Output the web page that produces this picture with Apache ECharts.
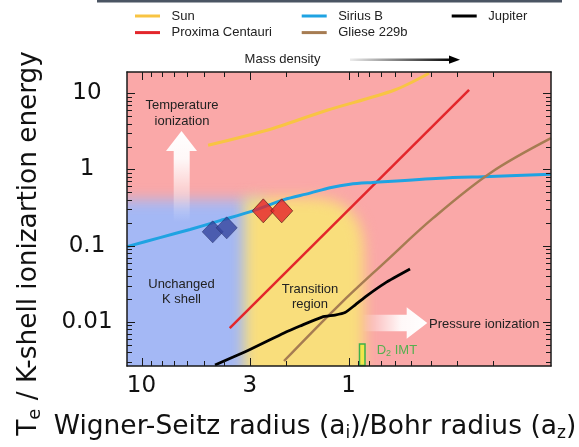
<!DOCTYPE html>
<html><head><meta charset="utf-8">
<script src="https://cdn.jsdelivr.net/npm/echarts@6/dist/echarts.min.js"></script>
<style>html,body{margin:0;padding:0;background:#fff}#c{width:579px;height:447px}</style>
</head><body><div id="c"></div>
<script>
// ---------------- data ----------------
const sunX = [4.77, 2.48, 1.271, 0.604, 0.409];
const sunY = [2.08, 3.27, 5.99, 10.95, 18.3];
const proximaX = [3.75, 0.262];
const proximaY = [0.00832, 11.05];
const siriusX = [11.75, 8.14, 5.83, 4.18, 2.895, 2.051, 1.536, 1.230, 0.985, 0.763, 0.362, 0.2076, 0.1054];
const siriusY = [0.0973, 0.1277, 0.1635, 0.2133, 0.2867, 0.402, 0.489, 0.5775, 0.642, 0.6756, 0.769, 0.8096, 0.868];
const glieseX = [2.051, 1.100, 0.6672, 0.3913, 0.2076, 0.1054];
const glieseY = [0.003073, 0.01717, 0.0610, 0.2299, 0.894, 2.572];
const jupiterX = [4.417, 2.993, 2.051, 1.717, 1.344, 1.163, 1.041, 0.9313, 0.815, 0.6672, 0.5052];
const jupiterY = [0.002723, 0.004347, 0.007154, 0.008837, 0.01159, 0.01231, 0.01328, 0.01665, 0.02218, 0.03234, 0.04935];
const blueDiamondX = [4.531, 3.878];
const blueDiamondY = [0.1521, 0.1716];
const redDiamondX = [2.582, 2.104];
const redDiamondY = [0.2867, 0.2867];
const xTickLabels = [10, 3, 1];
const yTickLabels = [10, 1, 0.1, 0.01];
const xMinorTicks = [0.2, 0.3, 0.4, 0.5, 0.6, 0.7, 0.8, 0.9, 2, 4, 5, 6, 7, 8, 9];
const yMinorTicks = [0.003, 0.004, 0.005, 0.006, 0.007, 0.008, 0.009,
  0.02, 0.03, 0.04, 0.05, 0.06, 0.07, 0.08, 0.09,
  0.2, 0.3, 0.4, 0.5, 0.6, 0.7, 0.8, 0.9,
  2, 3, 4, 5, 6, 7, 8, 9];
const xRange = [0.1054, 11.75];
const yRange = [0.002642, 19.01];
// background regions (data coordinates)
const unchangedX = [40, 3.2];      // K shell unchanged (blue)
const unchangedY = [0.0005, 0.40];
const transitionX = [3.2, 0.843];  // transition region (yellow)
const transitionY = [0.0005, 0.43];

// ---------------- chart ----------------
const chart = echarts.init(document.getElementById('c'), null, {renderer: 'canvas'});
const zip = (xs, ys) => xs.map((v, i) => [v, ys[i]]);
const numFont = 'DejaVu Sans';
const txtFont = 'Liberation Sans';
const fmtLabel = v => String(v);
const lineSeries = (name, xs, ys, color, width, smooth) => ({
  name, type: 'line', data: zip(xs, ys), showSymbol: false, smooth: smooth,
  lineStyle: {color, width}, itemStyle: {color}, clip: true, z: 4, silent: true
});

const axisCommonX = {
  type: 'log', min: xRange[0], max: xRange[1], inverse: true, z: 5,
  axisLine: {show: true, onZero: false, lineStyle: {color: '#1a1a1a', width: 1.5}},
  axisTick: {show: false}, splitLine: {show: false}, minorTick: {show: false}
};
const axisCommonY = {
  type: 'log', min: yRange[0], max: yRange[1], z: 5,
  axisLine: {show: true, onZero: false, lineStyle: {color: '#1a1a1a', width: 1.5}},
  axisTick: {show: false}, splitLine: {show: false}, minorTick: {show: false}
};

const legendBase = {
  orient: 'vertical', top: 9, padding: 0, itemGap: 2.6, itemWidth: 25, itemHeight: 3,
  icon: 'rect', selectedMode: false,
  textStyle: {fontSize: 13, fontFamily: txtFont, color: '#222', lineHeight: 14, padding: [0, 0, 0, 6.5]}
};

const option = {
  animation: false,
  backgroundColor: '#fff',
  grid: {left: 127, top: 72, width: 424, height: 294, show: false, outerBoundsMode: 'none', containLabel: false},
  legend: [
    Object.assign({}, legendBase, {left: 135, data: ['Sun', 'Proxima Centauri']}),
    Object.assign({}, legendBase, {left: 301.7, data: ['Sirius B', 'Gliese 229b']}),
    Object.assign({}, legendBase, {left: 451.7, data: ['Jupiter']})
  ],
  xAxis: [
    Object.assign({}, axisCommonX, {position: 'bottom',
      axisLabel: {show: true, customValues: xTickLabels, margin: 9, fontSize: 23, fontFamily: numFont, color: '#111', formatter: fmtLabel}}),
    Object.assign({}, axisCommonX, {position: 'top', axisLabel: {show: false}})
  ],
  yAxis: [
    Object.assign({}, axisCommonY, {position: 'left',
      axisLabel: {show: true, customValues: yTickLabels, margin: 40, align: 'center', fontSize: 23, fontFamily: numFont, color: '#111', formatter: fmtLabel}}),
    Object.assign({}, axisCommonY, {position: 'right', axisLabel: {show: false}})
  ],
  series: [
    lineSeries('Sun', sunX, sunY, '#F8C443', 3, 0.3),
    lineSeries('Proxima Centauri', proximaX, proximaY, '#E3262B', 2.5, false),
    lineSeries('Sirius B', siriusX, siriusY, '#1FA3E2', 3, 0.3),
    lineSeries('Gliese 229b', glieseX, glieseY, '#A67C52', 2.5, 0.35),
    lineSeries('Jupiter', jupiterX, jupiterY, '#000000', 2.8, 0.2),
    {name: 'blueDiamonds', type: 'scatter', data: zip(blueDiamondX, blueDiamondY), symbol: 'diamond', symbolSize: [21, 22],
      itemStyle: {color: '#34459E', borderColor: '#20285e', borderWidth: 0.6}, z: 6, silent: true},
    {name: 'redDiamonds', type: 'scatter', data: zip(redDiamondX, redDiamondY), symbol: 'diamond', symbolSize: [22, 24],
      itemStyle: {color: '#E5232A', borderColor: '#4a1212', borderWidth: 0.8}, z: 6, silent: true}
  ]
};
chart.setOption(option);

// ---------------- helpers through the axes' scales ----------------
const toPx = (x, y) => chart.convertToPixel({gridIndex: 0}, [x, y]);
const tl = toPx(xRange[1], yRange[1]);
const br = toPx(xRange[0], yRange[0]);
const W = Math.round(br[0] - tl[0]), H = Math.round(br[1] - tl[1]);

// ---------------- ticks ----------------
const tickEls = [];
const tickStyle = {stroke: '#1a1a1a', lineWidth: 1};
function addXTick(v, len) {
  const x = Math.round(toPx(v, 1)[0]) + 0.5;
  tickEls.push({type: 'line', z: 6, silent: true, shape: {x1: x, y1: br[1], x2: x, y2: br[1] - len}, style: tickStyle});
  tickEls.push({type: 'line', z: 6, silent: true, shape: {x1: x, y1: tl[1], x2: x, y2: tl[1] + len}, style: tickStyle});
}
function addYTick(v, len) {
  const y = Math.round(toPx(1, v)[1]) + 0.5;
  tickEls.push({type: 'line', z: 6, silent: true, shape: {x1: tl[0], y1: y, x2: tl[0] + len, y2: y}, style: tickStyle});
  tickEls.push({type: 'line', z: 6, silent: true, shape: {x1: br[0], y1: y, x2: br[0] - len, y2: y}, style: tickStyle});
}
xTickLabels.forEach(v => addXTick(v, 8));
xMinorTicks.forEach(v => addXTick(v, 5));
yTickLabels.forEach(v => addYTick(v, 8));
yMinorTicks.forEach(v => addYTick(v, 5));

// ---------------- background regions (blurred) ----------------
const cv = document.createElement('canvas');
cv.width = W; cv.height = H;
const ctx = cv.getContext('2d');
ctx.fillStyle = '#FAA8A8';
ctx.fillRect(0, 0, W, H);
ctx.filter = 'blur(7px)';
const b0 = toPx(unchangedX[0], unchangedY[1]);
const b1 = toPx(unchangedX[1], unchangedY[0]);
ctx.fillStyle = '#A4B8F5';
ctx.fillRect(b0[0] - tl[0], b0[1] - tl[1], (b1[0] - b0[0]) + 20, b1[1] - b0[1]);
const y0 = toPx(transitionX[0], transitionY[1]);
const y1 = toPx(transitionX[1], transitionY[0]);
const yx = y0[0] - tl[0], yy = y0[1] - tl[1], yw = y1[0] - y0[0], yh = y1[1] - y0[1];
const r = 55;
ctx.fillStyle = '#F9DE7C';
ctx.beginPath();
ctx.moveTo(yx, yy);
ctx.lineTo(yx + yw - r, yy);
ctx.quadraticCurveTo(yx + yw, yy, yx + yw, yy + r);
ctx.lineTo(yx + yw, yy + yh);
ctx.lineTo(yx, yy + yh);
ctx.closePath();
ctx.fill();
ctx.filter = 'none';

const upArrow = {
  type: 'polygon', z: 1, silent: true,
  shape: {points: [[181.5, 131], [197, 151], [189.7, 151], [189.7, 222], [173.7, 222], [173.7, 151], [166, 151]]},
  style: {fill: new echarts.graphic.LinearGradient(0, 0, 0, 1, [
    {offset: 0, color: 'rgba(255,255,255,1)'}, {offset: 0.3, color: 'rgba(255,255,255,0.92)'},
    {offset: 1, color: 'rgba(255,255,255,0)'}])}
};
const rightArrow = {
  type: 'polygon', z: 1, silent: true,
  shape: {points: [[362, 314.7], [406.7, 314.7], [406.7, 307.3], [427.3, 323], [406.7, 338.7], [406.7, 331.3], [362, 331.3]]},
  style: {fill: new echarts.graphic.LinearGradient(0, 0, 1, 0, [
    {offset: 0, color: 'rgba(255,255,255,0)'}, {offset: 0.6, color: 'rgba(255,255,255,0.92)'},
    {offset: 1, color: 'rgba(255,255,255,1)'}])}
};
const annText = (text, x, y, align, lh) => ({
  type: 'text', x, y, z: 3, silent: true,
  style: {text, fill: '#222', fontSize: 13, fontFamily: txtFont, align: align, verticalAlign: 'middle', lineHeight: lh}
});

chart.setOption({
  graphic: [
    {type: 'image', x: tl[0], y: tl[1], z: 0, silent: true, style: {image: cv, x: 0, y: 0, width: W, height: H}},
    upArrow, rightArrow,
    annText('Temperature\nionization', 182, 113.3, 'center', 16),
    annText('Unchanged\nK shell', 181.5, 292.2, 'center', 15),
    annText('Transition\nregion', 310, 297, 'center', 15.7),
    annText('Pressure ionization', 429, 324, 'left', 15),
    {type: 'rect', z: 3, silent: true, shape: {x: 359.5, y: 344, width: 5.5, height: 21.5},
      style: {fill: '#F2E64A', stroke: '#3DB04A', lineWidth: 1.5}},
    {type: 'text', x: 376.7, y: 350, z: 3, silent: true,
      style: {text: '{a|D}{b|2}{a| IMT}', verticalAlign: 'middle', align: 'left',
        rich: {a: {fill: '#55B04F', fontSize: 13, fontFamily: txtFont, lineHeight: 16},
               b: {fill: '#55B04F', fontSize: 9, fontFamily: txtFont, lineHeight: 9, verticalAlign: 'bottom'}}}},
    {type: 'rect', z: 3, silent: true, shape: {x: 97, y: 0, width: 465, height: 2.5}, style: {fill: '#4B5563'}},
    {type: 'text', x: 282.5, y: 59.5, z: 3, silent: true,
      style: {text: 'Mass density', fill: '#222', fontSize: 13, fontFamily: txtFont, align: 'center', verticalAlign: 'middle'}},
    {type: 'line', z: 3, silent: true, shape: {x1: 350, y1: 59.7, x2: 451, y2: 59.7},
      style: {lineWidth: 2.5, stroke: new echarts.graphic.LinearGradient(0, 0, 1, 0, [
        {offset: 0, color: 'rgba(0,0,0,0.05)'}, {offset: 1, color: '#000'}])}},
    {type: 'polygon', z: 3, silent: true, shape: {points: [[449, 55.6], [460, 59.7], [449, 63.8]]}, style: {fill: '#000'}},
    {type: 'text', x: 315, y: 427, z: 3, silent: true,
      style: {text: '{a|Wigner-Seitz radius (a}{b|i}{a|)/Bohr radius (a}{b|z}{a|)}', align: 'center', verticalAlign: 'middle',
        rich: {a: {fill: '#111', fontSize: 26.5, fontFamily: numFont, lineHeight: 31},
               b: {fill: '#111', fontSize: 17, fontFamily: numFont, lineHeight: 17, verticalAlign: 'bottom'}}}},
    {type: 'text', x: 29, y: 243.5, rotation: Math.PI / 2, z: 3, silent: true,
      style: {text: '{a|T}{b|e}{a| / K-shell ionizartion energy}', align: 'center', verticalAlign: 'middle',
        rich: {a: {fill: '#111', fontSize: 26.3, fontFamily: numFont, lineHeight: 31},
               b: {fill: '#111', fontSize: 18, fontFamily: numFont, lineHeight: 18, verticalAlign: 'bottom'}}}}
  ].concat(tickEls)
});
</script></body></html>
